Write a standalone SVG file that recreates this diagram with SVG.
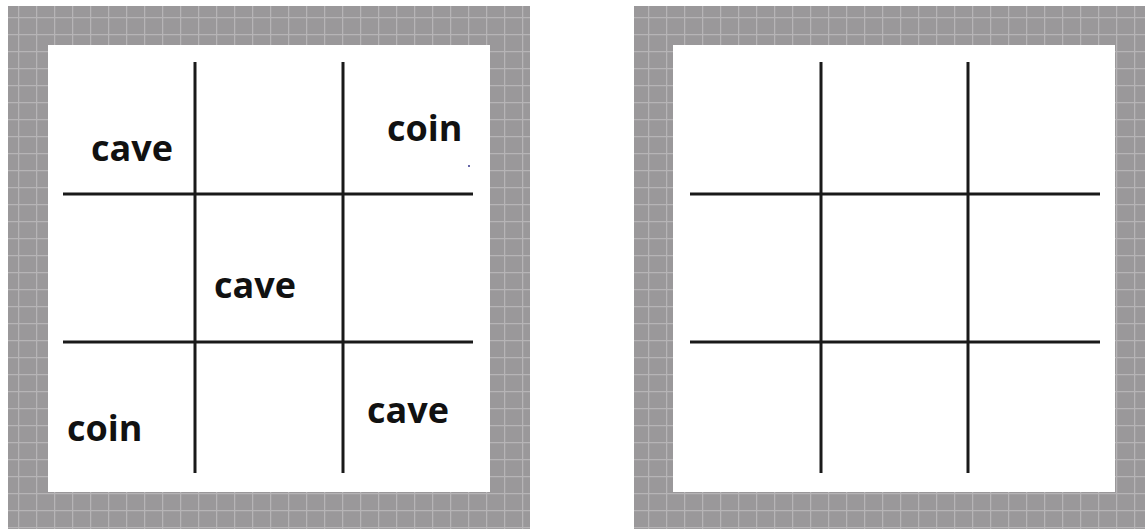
<svg xmlns="http://www.w3.org/2000/svg" width="1145" height="529" viewBox="0 0 1145 529">
<style>
.grid{stroke:#1a1a1a;stroke-width:3;fill:none}
.lbl{font-family:"Open Sans","Noto Sans","DejaVu Sans",sans-serif;font-weight:bold;font-size:36px;fill:#111}
.inner{fill:#fff}
</style>
<defs>
<pattern id="tile" width="18" height="17" patternUnits="userSpaceOnUse">
<rect width="18" height="17" fill="#9a989a"/>
<path d="M0 0.5H18M0.5 0V17" stroke="#b6b4b6" stroke-width="1.5"/>
</pattern>
</defs>
<rect width="1145" height="529" fill="#fff"/>
<g id="board-left">
<rect x="8" y="6" width="522" height="523" fill="url(#tile)"/>
<rect class="inner" x="48" y="45" width="442" height="447"/>
<g id="connectors-left" class="grid">
<line x1="195" y1="62" x2="195" y2="473"/>
<line x1="343" y1="62" x2="343" y2="473"/>
<line x1="63" y1="194" x2="473" y2="194"/>
<line x1="63" y1="342" x2="473" y2="342"/>
</g>
<text id="t1" class="lbl" x="91" y="161">cave</text>
<text id="t2" class="lbl" x="387" y="141">coin</text>
<text id="t3" class="lbl" x="214" y="298">cave</text>
<text id="t4" class="lbl" x="67" y="441">coin</text>
<text id="t5" class="lbl" x="367" y="423">cave</text>
<circle cx="469" cy="166" r="1" fill="#33338a"/>
</g>
<g id="board-right">
<rect x="634" y="6" width="511" height="523" fill="url(#tile)"/>
<rect class="inner" x="673" y="45" width="442" height="447"/>
<g id="connectors-right" class="grid">
<line x1="821" y1="62" x2="821" y2="473"/>
<line x1="968" y1="62" x2="968" y2="473"/>
<line x1="690" y1="194" x2="1100" y2="194"/>
<line x1="690" y1="342" x2="1100" y2="342"/>
</g>
</g>
</svg>
